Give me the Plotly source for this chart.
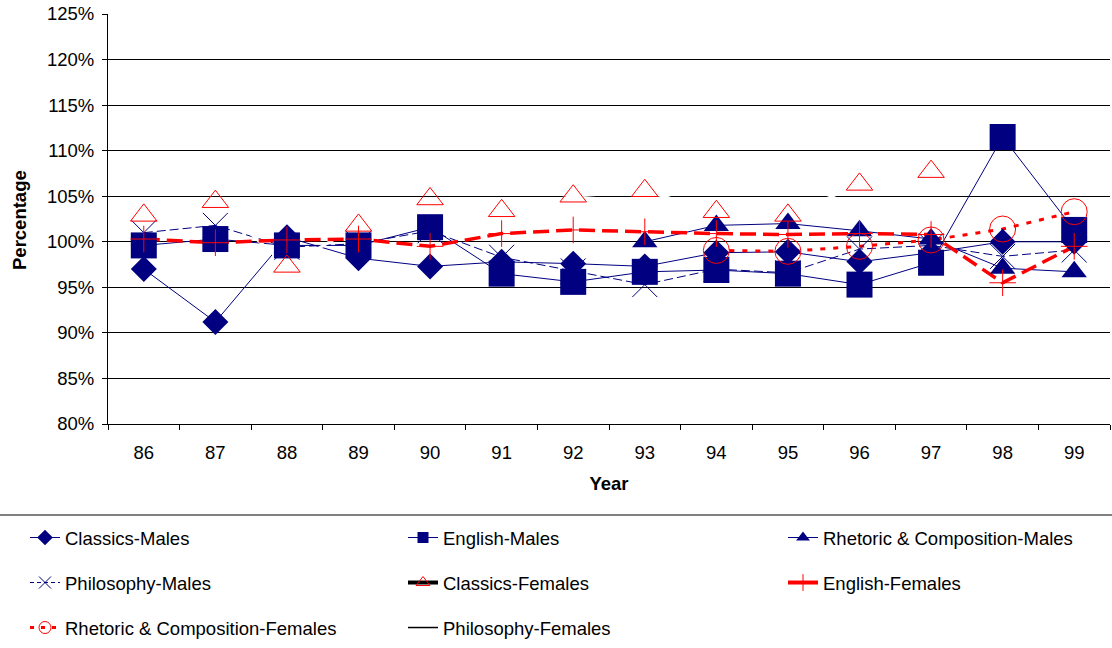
import plotly.graph_objects as go

# ---------------- data ----------------
years = ['86', '87', '88', '89', '90', '91', '92', '93', '94', '95', '96', '97', '98', '99']

classics_males = [97.0, 91.2, 100.5, 98.2, 97.3, 97.8, 97.6, 97.3, 98.8, 98.9, 97.8, 98.8, 100.0, 100.0]
english_males = [99.6, 100.3, 99.6, 99.6, 101.6, 96.5, 95.6, 96.7, 96.9, 96.5, 95.3, 97.7, 111.5, 101.3]
rhetoric_males = [None, None, None, None, None, None, None, 100.0, 101.8, 102.0, 101.2, 100.3, 97.1, 96.7]
philosophy_males = [101.0, 101.8, 99.4, 99.8, 101.2, 98.3, 96.8, 95.3, 97.0, 96.6, 99.2, 99.6, 98.4, 99.1]
classics_females = [102.9, 104.4, 97.3, 101.8, 104.7, 103.4, 105.0, 105.6, 103.3, 102.9, 106.3, 107.7, None, None]
english_females = [100.3, 99.9, 100.2, 100.3, 99.5, 100.9, 101.3, 101.1, 100.9, 100.8, 100.9, 100.8, 95.5, 99.5]
rhetoric_females = [None, None, None, None, None, None, None, None, 99.05, 98.95, 99.5, 100.2, 101.4, 103.3]
philosophy_females = [None] * 14

y_ticks = [80, 85, 90, 95, 100, 105, 110, 115, 120, 125]
y_tick_labels = [f'{v}%' for v in y_ticks]

# ---------------- styling ----------------
NAVY = '#000080'
RED = '#FF0000'
FONT = 'Liberation Sans, Arial, sans-serif'

W, H = 1112, 648
# plot area in window pixels: x 108..1110, y 14..424
ML = 108
MR = 1112 - 1110
MT = 14
MB = 648 - 424
PW = W - ML - MR
PH = H - MT - MB


def px_(wx):
    """window pixel x -> paper x"""
    return (wx - ML) / PW


def py(wy):
    """window pixel y -> paper y"""
    return (H - MB - wy) / PH


series = [
    dict(name='Classics-Males', y=classics_males,
         line=dict(color=NAVY, width=1),
         marker=dict(symbol='diamond', size=20, color=NAVY),
         leg_line=dict(color=NAVY, width=1),
         leg_marker=dict(symbol='diamond', size=12, color=NAVY), pos=(0, 0)),
    dict(name='English-Males', y=english_males,
         line=dict(color=NAVY, width=1),
         marker=dict(symbol='square', size=26, color=NAVY),
         leg_line=dict(color=NAVY, width=1),
         leg_marker=dict(symbol='square', size=11, color=NAVY), pos=(1, 0)),
    dict(name='Rhetoric & Composition-Males', y=rhetoric_males,
         line=dict(color=NAVY, width=1),
         marker=dict(symbol='triangle-up', size=22, color=NAVY),
         leg_line=dict(color=NAVY, width=1),
         leg_marker=dict(symbol='triangle-up', size=12, color=NAVY), pos=(2, 0)),
    dict(name='Philosophy-Males', y=philosophy_males,
         line=dict(color=NAVY, width=1, dash='9px,4px'),
         marker=dict(symbol='x-thin-open', size=25, color=NAVY, line=dict(color=NAVY, width=1)),
         leg_line=dict(color=NAVY, width=1, dash='4px,3px'),
         leg_marker=dict(symbol='x-thin-open', size=12, color=NAVY, line=dict(color=NAVY, width=1)),
         pos=(0, 1)),
    dict(name='Classics-Females', y=classics_females,
         line=dict(color='white', width=3),
         marker=dict(symbol='triangle-up-open', size=23, color=RED, line=dict(color=RED, width=1)),
         leg_line=dict(color='black', width=4),
         leg_marker=dict(symbol='triangle-up-open', size=12, color=RED, line=dict(color=RED, width=1)),
         pos=(1, 1)),
    dict(name='English-Females', y=english_females,
         line=dict(color=RED, width=3.5, dash='16px,7px'),
         marker=dict(symbol='cross-thin-open', size=19, color=RED, line=dict(color=RED, width=1)),
         leg_line=dict(color=RED, width=4),
         leg_marker=dict(symbol='cross-thin-open', size=12, color=RED, line=dict(color=RED, width=1)),
         pos=(2, 1)),
    dict(name='Rhetoric & Composition-Females', y=rhetoric_females,
         line=dict(color=RED, width=3, dash='5px,8px'),
         marker=dict(symbol='circle-open', size=26, color=RED, line=dict(color=RED, width=1)),
         leg_line=dict(color=RED, width=3, dash='4px,7px'),
         leg_marker=dict(symbol='circle-open', size=12, color=RED, line=dict(color=RED, width=1)),
         pos=(0, 2)),
    dict(name='Philosophy-Females', y=philosophy_females,
         line=dict(color='black', width=1),
         marker=dict(symbol='circle', size=1, color='black'),
         leg_line=dict(color='black', width=1.5),
         leg_marker=dict(symbol='circle', size=1, color='rgba(0,0,0,0)'),
         pos=(1, 2)),
]

col_x = [25, 403, 783]      # window px of legend box left
row_y = [538, 583, 628]     # window px of legend text centre

fig = go.Figure()

# lines first (all lines beneath all markers, as in the original)
for s in series:
    fig.add_trace(go.Scatter(x=years, y=s['y'], mode='lines', line=s['line'],
                             connectgaps=False, showlegend=False, hoverinfo='skip'))
# then markers
for s in series:
    fig.add_trace(go.Scatter(x=years, y=s['y'], mode='markers', marker=s['marker'],
                             showlegend=False, name=s['name']))

legends = {}
for i, s in enumerate(series):
    key = 'legend' if i == 0 else f'legend{i + 1}'
    c, r = s['pos']
    legends[key] = dict(x=px_(col_x[c]), y=py(row_y[r]), xanchor='left', yanchor='middle',
                        orientation='v', font=dict(family=FONT, size=18.5, color='black'),
                        bgcolor='rgba(0,0,0,0)', borderwidth=0, itemsizing='trace')
    fig.add_trace(go.Scatter(x=[None], y=[None], mode='lines+markers', name=s['name'],
                             line=s['leg_line'], marker=s['leg_marker'],
                             legend=key, showlegend=True))

fig.update_layout(
    width=W, height=H,
    margin=dict(l=ML, r=MR, t=MT, b=MB, autoexpand=False),
    paper_bgcolor='white', plot_bgcolor='white',
    font=dict(family=FONT, size=18.5, color='black'),
    xaxis=dict(type='category', categoryorder='array', categoryarray=years,
               range=[-0.5, len(years) - 0.5],
               showline=True, linecolor='black', linewidth=1,
               ticks='outside', tickson='boundaries', ticklen=5, tickcolor='black',
               showgrid=False, zeroline=False,
               tickfont=dict(family=FONT, size=18.5, color='black'),
               ticklabelstandoff=12,
               title=dict(text='<b>Year</b>', font=dict(family=FONT, size=18.5), standoff=14)),
    yaxis=dict(range=[80, 125], tickvals=y_ticks, ticktext=y_tick_labels,
               showline=True, linecolor='black', linewidth=1,
               ticks='outside', ticklen=5, tickcolor='black',
               showgrid=True, gridcolor='black', gridwidth=1, zeroline=False,
               tickfont=dict(family=FONT, size=18.5, color='black'),
               ticklabelstandoff=4, ticklabeloverflow='allow'),
    annotations=[dict(text='<b>Percentage</b>', textangle=-90, showarrow=False,
                      xref='paper', yref='paper', x=px_(19), y=py(220),
                      xanchor='center', yanchor='middle',
                      font=dict(family=FONT, size=18.5, color='black'))],
    shapes=[dict(type='line', xref='paper', yref='paper',
                 x0=px_(0), x1=px_(1112), y0=py(515), y1=py(515),
                 line=dict(color='#808080', width=2))],
    **legends,
)

fig.write_html('out.html', config={'displayModeBar': False},
               post_script="document.body.style.margin='0';document.body.style.overflow='hidden';")
